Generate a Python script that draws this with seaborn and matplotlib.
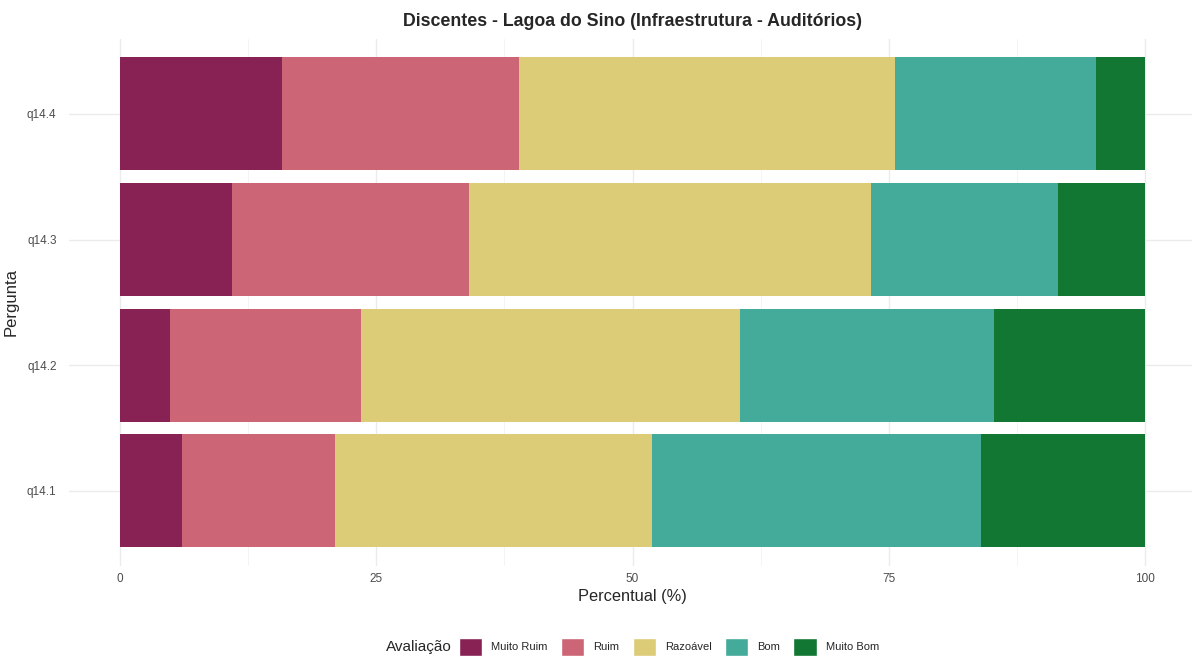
import pandas as pd
import matplotlib
matplotlib.use("Agg")
import matplotlib.pyplot as plt
import seaborn as sns
from matplotlib.patches import Patch

# dados (percentual por pergunta)
perguntas = ["q14.4", "q14.3", "q14.2", "q14.1"]
niveis = ["Muito Ruim", "Ruim", "Razoável", "Bom", "Muito Bom"]
muito_ruim = [15.8, 10.9, 4.9, 6.0]
ruim = [23.1, 23.1, 18.6, 15.0]
razoavel = [36.7, 39.3, 37.0, 30.9]
bom = [19.6, 18.2, 24.8, 32.1]
muito_bom = [4.8, 8.5, 14.7, 16.0]
cores = ["#882255", "#CC6677", "#DDCC77", "#44AA99", "#117733"]

df = pd.DataFrame({"Pergunta": perguntas, "Muito Ruim": muito_ruim, "Ruim": ruim,
                   "Razoável": razoavel, "Bom": bom, "Muito Bom": muito_bom})
acum = df[niveis].cumsum(axis=1)
acum["Pergunta"] = df["Pergunta"]

sns.set_style("white")
plt.rcParams["font.family"] = ["Liberation Sans", "DejaVu Sans"]

fig = plt.figure(figsize=(11.92, 6.57), dpi=100)
ax = fig.add_axes([0.0579, 0.1385, 0.9455, 0.8027])

# barras empilhadas: desenha do acumulado maior para o menor
for nivel, cor in reversed(list(zip(niveis, cores))):
    sns.barplot(data=acum, x=nivel, y="Pergunta", order=perguntas, color=cor,
                width=0.9, saturation=1, errorbar=None, linewidth=0,
                edgecolor=cor, ax=ax, zorder=2)

ax.set_xlim(-5, 105)
ax.set_ylim(3.6, -0.6)
ax.set_xticks([0, 25, 50, 75, 100])
ax.set_xticks([12.5, 37.5, 62.5, 87.5], minor=True)
ax.set_axisbelow(True)
ax.grid(which="major", color="#EBEBEB", linewidth=1.0)
ax.grid(which="minor", axis="x", color="#F2F2F2", linewidth=0.6)
for s in ax.spines.values():
    s.set_visible(False)
ax.tick_params(which="both", length=0, colors="#4D4D4D", labelsize=8.5)
ax.tick_params(axis="y", pad=9)
ax.tick_params(axis="x", pad=5)

ax.set_xlabel("Percentual (%)", fontsize=11.8, labelpad=3)
ax.set_ylabel("Pergunta", fontsize=12, labelpad=6)
ax.set_title("Discentes - Lagoa do Sino (Infraestrutura - Auditórios)",
             fontsize=12.8, fontweight="bold", pad=9)

handles = [Patch(facecolor=c, label=n) for n, c in zip(niveis, cores)]
fig.legend(handles=handles, loc="center", bbox_to_anchor=(669 / 1192, 1 - 647 / 657),
           ncol=5, frameon=False, fontsize=8, handlelength=2.1, handleheight=2.1,
           handletextpad=0.8, columnspacing=1.2)
fig.text(452 / 1192, 1 - 647 / 657, "Avaliação", ha="right", va="center", fontsize=11)

fig.savefig("out.png", dpi=100, facecolor="white")
